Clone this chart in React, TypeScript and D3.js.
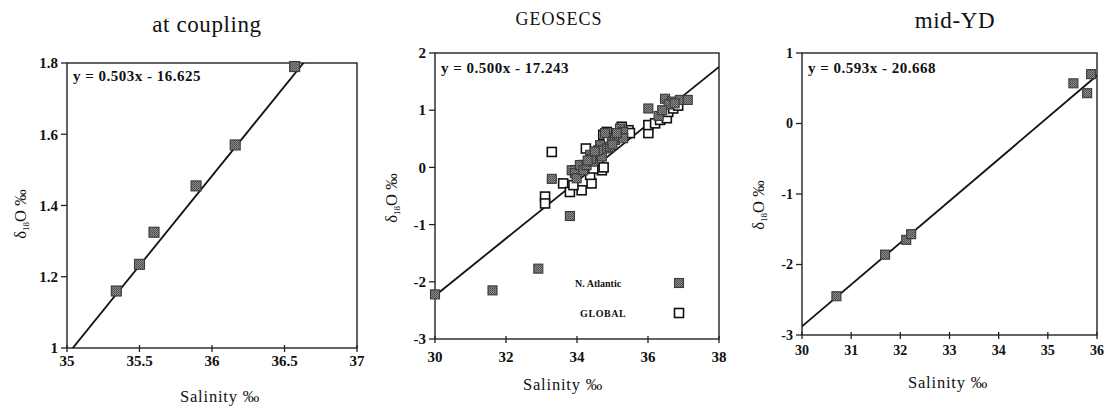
import React from "react";
import * as d3 from "d3";

// ---- data ----
const couplingSal = [35.34, 35.5, 35.6, 35.89, 36.16, 36.57];
const couplingD18O = [1.16, 1.235, 1.325, 1.455, 1.57, 1.79];

const natlSal = [
  30.0, 31.62, 32.91, 33.29, 33.8, 36.01, 36.48, 36.67, 36.9, 37.12,
  33.85, 33.94, 33.99, 34.08, 34.18, 34.27, 34.37, 34.46, 34.55, 34.65,
  34.7, 34.84, 34.93, 34.98, 35.07, 35.17, 35.21, 35.3, 35.3, 34.79,
  34.6, 34.4, 34.5, 35.0, 35.12, 34.3, 36.58, 36.75, 36.3, 36.4,
];
const natlD18O = [
  -2.22, -2.15, -1.77, -0.2, -0.85, 1.03, 1.2, 1.15, 1.18, 1.18,
  -0.05, -0.1, -0.19, 0.04, -0.05, 0.04, 0.22, 0.1, 0.22, 0.39,
  0.19, 0.33, 0.36, 0.48, 0.48, 0.54, 0.68, 0.62, 0.51, 0.6,
  0.3, 0.15, 0.28, 0.4, 0.6, 0.12, 1.1, 1.12, 0.9, 1.0,
];
const globalSal = [
  33.29, 34.25, 33.1, 33.1, 33.61, 33.8, 34.13, 34.41, 33.94, 34.37,
  34.7, 34.74, 34.84, 34.88, 35.45, 35.26, 36.01, 36.01, 36.2, 36.34,
  36.53, 36.57, 36.71, 34.18, 34.46, 34.6, 33.9, 34.75, 36.85, 35.49,
];
const globalD18O = [
  0.27, 0.33, -0.51, -0.63, -0.28, -0.43, -0.4, -0.28, -0.05, -0.13,
  -0.05, 0.57, 0.62, 0.51, 0.65, 0.71, 0.6, 0.74, 0.77, 0.83,
  0.86, 0.97, 1.03, 0.04, -0.02, 0.13, -0.31, 0.0, 1.08, 0.6,
];

const midYDSal = [30.7, 31.69, 32.12, 32.22, 35.52, 35.8, 35.88];
const midYDD18O = [-2.45, -1.86, -1.65, -1.57, 0.57, 0.43, 0.7];

const couplingXTicks = [35, 35.5, 36, 36.5, 37];
const couplingYTicks = [1, 1.2, 1.4, 1.6, 1.8];
const geosecsXTicks = [30, 32, 34, 36, 38];
const geosecsYTicks = [-3, -2, -1, 0, 1, 2];
const midYDXTicks = [30, 31, 32, 33, 34, 35, 36];
const midYDYTicks = [-3, -2, -1, 0, 1];

// regression fits: [slope, intercept]
const couplingFit = [0.503, -16.625];
const geosecsFit = [0.5, -17.243];
const midYDFit = [0.593, -20.668];

const serif = "'Liberation Serif', 'DejaVu Serif', serif";

type Series = { xs: number[]; ys: number[]; open: boolean };

type PanelProps = {
  id: string;
  title: string;
  titleX: number;
  titleY: number;
  titleSize: number;
  titleSpacing: number;
  xDomain: [number, number];
  yDomain: [number, number];
  left: number;
  right: number;
  top: number;
  bottom: number;
  xTicks: number[];
  yTicks: number[];
  tickSize: number;
  series: Series[];
  fit: number[];
  eqLabel: string;
  eqY: number;
  xLabelX: number;
  xLabelY: number;
  xTickY: number;
  yLabelX: number;
  yLabelY: number;
  markerSize: number;
  children?: React.ReactNode;
};

function Square({ x, y, s, open }: { x: number; y: number; s: number; open: boolean }) {
  return (
    <rect
      x={x - s / 2}
      y={y - s / 2}
      width={s}
      height={s}
      fill={open ? "#fff" : "url(#hatch)"}
      stroke={open ? "#111" : "#3a3a3a"}
      strokeWidth={open ? 1.6 : 1.1}
    />
  );
}

function Panel(p: PanelProps) {
  const x = d3.scaleLinear().domain(p.xDomain).range([p.left, p.right]);
  const y = d3.scaleLinear().domain(p.yDomain).range([p.bottom, p.top]);
  const lineGen = d3
    .line<number>()
    .x((v) => x(v))
    .y((v) => y(p.fit[0] * v + p.fit[1]));
  const clipId = `clip-${p.id}`;
  return (
    <g>
      <defs>
        <clipPath id={clipId}>
          <rect x={p.left} y={p.top} width={p.right - p.left} height={p.bottom - p.top} />
        </clipPath>
      </defs>
      <text
        x={p.titleX}
        y={p.titleY}
        textAnchor="middle"
        fontFamily={serif}
        fontSize={p.titleSize}
        letterSpacing={p.titleSpacing}
        fill="#111"
      >
        {p.title}
      </text>
      {/* frame */}
      <rect
        x={p.left}
        y={p.top}
        width={p.right - p.left}
        height={p.bottom - p.top}
        fill="none"
        stroke="#222"
        strokeWidth={1.4}
      />
      {/* y ticks */}
      {p.yTicks.map((t) => (
        <g key={`y${t}`}>
          <line x1={p.left - 6} x2={p.left} y1={y(t)} y2={y(t)} stroke="#222" strokeWidth={1.3} />
          <text
            x={p.left - 9}
            y={y(t)}
            dy="0.35em"
            textAnchor="end"
            fontFamily={serif}
            fontWeight="bold"
            fontSize={p.tickSize}
            fill="#111"
          >
            {String(t)}
          </text>
        </g>
      ))}
      {/* x ticks */}
      {p.xTicks.map((t) => (
        <g key={`x${t}`}>
          <line x1={x(t)} x2={x(t)} y1={p.bottom - 3} y2={p.bottom + 4} stroke="#222" strokeWidth={1.3} />
          <text
            x={x(t)}
            y={p.xTickY}
            textAnchor="middle"
            fontFamily={serif}
            fontWeight="bold"
            fontSize={p.tickSize}
            fill="#111"
          >
            {String(t)}
          </text>
        </g>
      ))}
      {/* fitted line */}
      <path
        d={lineGen(p.xDomain) || ""}
        fill="none"
        stroke="#111"
        strokeWidth={1.8}
        clipPath={`url(#${clipId})`}
      />
      {/* points */}
      {p.series.map((s, si) =>
        s.xs.map((v, i) => (
          <Square key={`${si}-${i}`} x={x(v)} y={y(s.ys[i])} s={p.markerSize} open={s.open} />
        ))
      )}
      {/* equation */}
      <text
        x={p.left + 6}
        y={p.eqY}
        fontFamily={serif}
        fontWeight="bold"
        fontSize={15}
        letterSpacing={0.5}
        fill="#111"
      >
        {p.eqLabel}
      </text>
      {/* axis titles */}
      <text
        x={p.xLabelX}
        y={p.xLabelY}
        textAnchor="middle"
        fontFamily={serif}
        fontSize={16.5}
        letterSpacing={0.8}
        fill="#111"
      >
        Salinity ‰
      </text>
      <text
        transform={`translate(${p.yLabelX},${p.yLabelY}) rotate(-90)`}
        textAnchor="middle"
        dy="0.35em"
        fontFamily={serif}
        fontSize={16.5}
        fill="#111"
      >
        δ<tspan fontSize={9} dy={3}>18</tspan>
        <tspan dy={-3}>O ‰</tspan>
      </text>
      {p.children}
    </g>
  );
}

export default function App() {
  return (
    <svg
      width={1112}
      height={408}
      style={{ position: "fixed", left: 0, top: 0, background: "#fff" }}
    >
      <defs>
        <pattern id="hatch" width={2} height={2} patternUnits="userSpaceOnUse">
          <rect width={2} height={2} fill="#8a8a8a" />
          <rect width={1} height={1} fill="#4a4a4a" />
          <rect x={1} y={1} width={1} height={1} fill="#5a5a5a" />
        </pattern>
      </defs>
      <rect width={1112} height={408} fill="#fff" />

      <Panel
        id="coupling"
        title="at coupling"
        titleX={207}
        titleY={32}
        titleSize={23}
        titleSpacing={0.6}
        xDomain={[35, 37]}
        yDomain={[1, 1.8]}
        left={67}
        right={357}
        top={63}
        bottom={348}
        xTicks={couplingXTicks}
        yTicks={couplingYTicks}
        tickSize={15}
        series={[{ xs: couplingSal, ys: couplingD18O, open: false }]}
        fit={couplingFit}
        eqLabel="y = 0.503x - 16.625"
        eqY={81}
        xLabelX={220}
        xLabelY={402}
        xTickY={366}
        yLabelX={20}
        yLabelY={214}
        markerSize={10}
      />

      <Panel
        id="geosecs"
        title="GEOSECS"
        titleX={559}
        titleY={25}
        titleSize={18}
        titleSpacing={1}
        xDomain={[30, 38]}
        yDomain={[-3, 2]}
        left={435}
        right={719}
        top={53}
        bottom={339}
        xTicks={geosecsXTicks}
        yTicks={geosecsYTicks}
        tickSize={15}
        series={[
          { xs: globalSal, ys: globalD18O, open: true },
          { xs: natlSal, ys: natlD18O, open: false },
        ]}
        fit={geosecsFit}
        eqLabel="y = 0.500x - 17.243"
        eqY={73}
        xLabelX={563}
        xLabelY={390}
        xTickY={362}
        yLabelX={391}
        yLabelY={198}
        markerSize={9}
      >
        <text x={575} y={287} fontFamily={serif} fontSize={10} fontWeight="bold" fill="#111">
          N. Atlantic
        </text>
        <Square x={679} y={283} s={9} open={false} />
        <text x={580} y={317} fontFamily={serif} fontSize={10} fontWeight="bold" letterSpacing={0.6} fill="#111">
          GLOBAL
        </text>
        <Square x={679} y={313} s={9} open={true} />
      </Panel>

      <Panel
        id="midyd"
        title="mid-YD"
        titleX={955}
        titleY={28}
        titleSize={23}
        titleSpacing={0.6}
        xDomain={[30, 36]}
        yDomain={[-3, 1]}
        left={802}
        right={1097}
        top={53}
        bottom={335}
        xTicks={midYDXTicks}
        yTicks={midYDYTicks}
        tickSize={14}
        series={[{ xs: midYDSal, ys: midYDD18O, open: false }]}
        fit={midYDFit}
        eqLabel="y = 0.593x - 20.668"
        eqY={73}
        xLabelX={948}
        xLabelY={388}
        xTickY={355}
        yLabelX={758}
        yLabelY={205}
        markerSize={9}
      />
    </svg>
  );
}
